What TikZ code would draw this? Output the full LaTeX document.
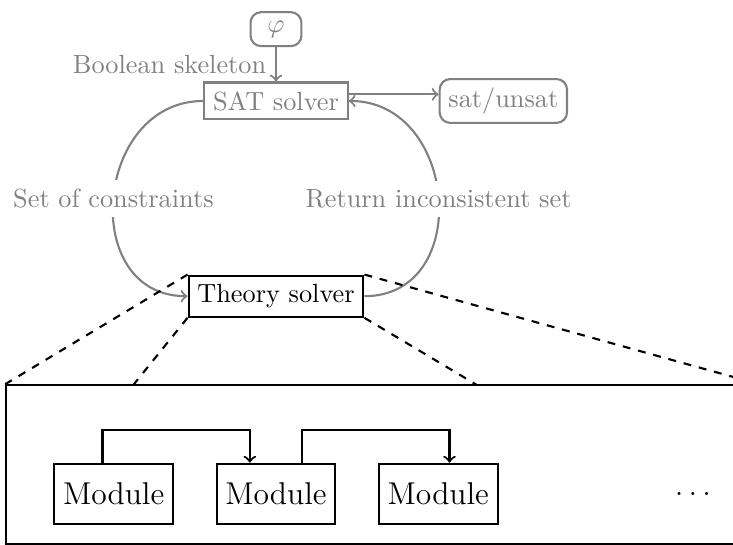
\documentclass[tikz,border=0pt]{standalone}
\usepackage{amsmath}
\usetikzlibrary{positioning}

\begin{document}
\begin{tikzpicture}[thick, node distance=2cm, on grid,
    outer/.style={draw=gray, text=gray},
    module/.style={draw, font=\large, minimum height=0.8cm}]
   \clip (-3.69,1.35) rectangle (6.11,-5.936);

   \node[outer] (sat) {SAT solver};
   \node[outer, rounded corners, minimum width=0.68cm] (phi) [above=0.96cm of sat] {$\varphi$};
   \node[outer, rounded corners] (res) [right=3.04cm of sat] {sat/unsat};
   \node[draw] (ts) [below=2.61cm of sat] {Theory solver};

   % zoomed view of the theory solver
   \node[draw, minimum width=10.05cm, minimum height=2.13cm] (zoom) at (1.42,-4.865) {};
   \node[module] (m2) [below=2.64cm of ts] {Module};
   \node[module] (m1) [left=2.17cm of m2]  {Module};
   \node[module] (m3) [right=2.17cm of m2] {Module};
   \node[font=\large] (dots) [right=3.44cm of m3] {$\dots$};
   \coordinate (zl) at (-1.91,-3.80);
   \coordinate (zr) at (2.69,-3.80);

   \path[->, gray]
    (phi) edge node[left] {Boolean skeleton} (sat)
    ([yshift=2.5pt]sat.east) edge ([yshift=2.5pt]res.west)
    (sat.west) edge[out=180, in=180, looseness=1.43] node[fill=white] {Set of constraints} (ts.west)
    (ts.east)  edge[out=0, in=0, looseness=1.43] node[fill=white] {Return inconsistent set} (sat.east);

   \draw[dashed]
    (ts.north west) -- (zoom.north west)
    (ts.south west) -- (zl)
    (ts.south east) -- (zr)
    (ts.north east) -- (zoom.north east);

   \draw[->] ([xshift=-0.15cm]m1.north) -- ++(0,0.44) -| ([xshift=-0.35cm]m2.north);
   \draw[->] ([xshift=0.35cm]m2.north)  -- ++(0,0.44) -| ([xshift=0.15cm]m3.north);
\end{tikzpicture}
\end{document}
